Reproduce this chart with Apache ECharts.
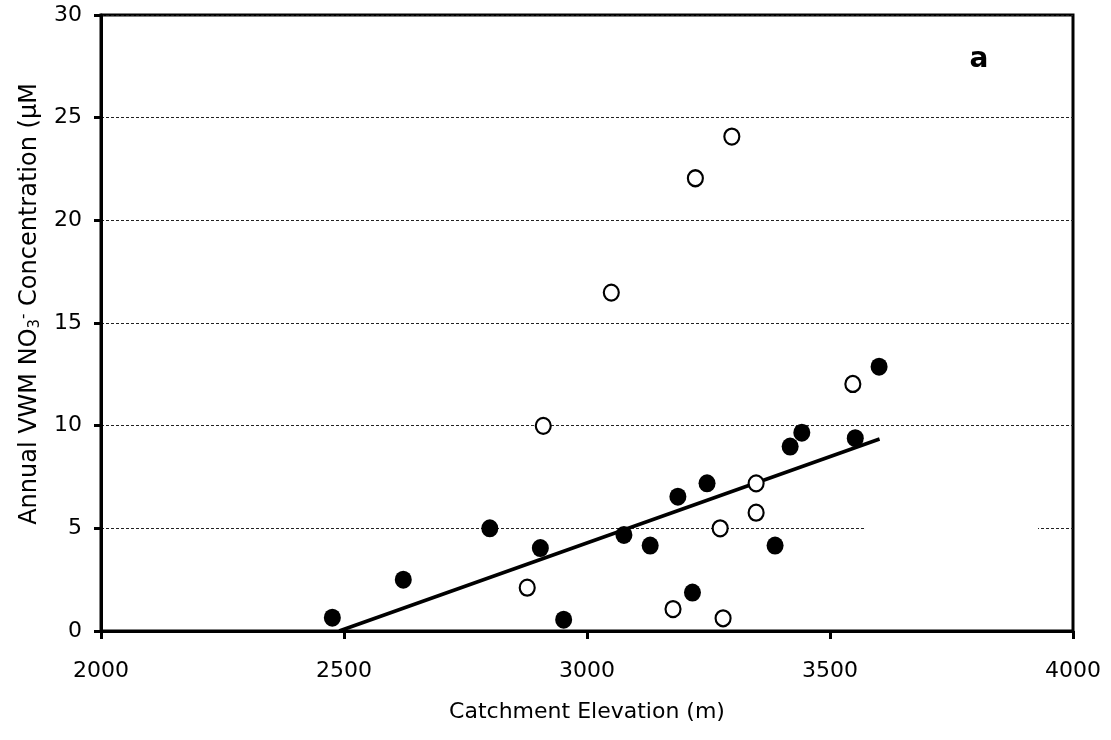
<!DOCTYPE html>
<html>
<head>
<meta charset="utf-8">
<script src="https://cdn.jsdelivr.net/npm/echarts@6/dist/echarts.min.js"></script>
<style>html,body{margin:0;padding:0;background:#fff;}#c{width:1111px;height:740px;}</style>
</head>
<body>
<div id="c"></div>
<script>
// Data
const xTicks = [2000, 2500, 3000, 3500, 4000];
const yTicks = [0, 5, 10, 15, 20, 25, 30];
const filledPoints = [
  [2476, 0.65], [2622, 2.5], [2800, 5.0], [2904, 4.04], [2952, 0.55],
  [3076, 4.68], [3130, 4.16], [3187, 6.54], [3217, 1.87], [3247, 7.19],
  [3387, 4.16], [3418, 8.98], [3442, 9.66], [3552, 9.39], [3601, 12.87]
];
const openPoints = [
  [2877, 2.11], [2910, 9.99], [3050, 16.48], [3177, 1.07], [3223, 22.05],
  [3274, 5.0], [3280, 0.62], [3298, 24.08], [3348, 7.19], [3348, 5.76],
  [3547, 12.03]
];
const trendLine = [[2490, 0], [3602, 9.35]];
const gridGapX = [3570, 3928];
const gridGapY = 5;
const panelLabel = 'a';

const FONT = 'DejaVu Sans';
const chart = echarts.init(document.getElementById('c'), null, {renderer: 'canvas'});
chart.setOption({
  backgroundColor: '#fff',
  animation: false,
  grid: {left: 101, right: 38, top: 15, bottom: 109, show: true, borderColor: '#000', borderWidth: 3, backgroundColor: 'transparent'},
  xAxis: {
    type: 'value', min: xTicks[0], max: xTicks[xTicks.length - 1], interval: 500,
    name: 'Catchment Elevation (m)', nameLocation: 'middle', nameGap: 70,
    nameTextStyle: {fontFamily: FONT, fontSize: 22, color: '#000'},
    axisLine: {show: true, lineStyle: {color: '#000', width: 3}},
    axisTick: {show: true, inside: false, length: 8, lineStyle: {color: '#000', width: 3}},
    axisLabel: {fontFamily: FONT, fontSize: 22, color: '#000', margin: 29, formatter: function (v) { return String(v); }},
    splitLine: {show: false}
  },
  yAxis: {
    type: 'value', min: yTicks[0], max: yTicks[yTicks.length - 1], interval: 5,
    name: 'Annual VWM NO{sub|3}{sup|-} Concentration (µM', nameLocation: 'middle', nameGap: 54,
    nameTextStyle: {fontFamily: FONT, fontSize: 24, color: '#000', padding: [0, 0, 0, 38],
      rich: {
        sub: {fontFamily: FONT, fontSize: 15, color: '#000', verticalAlign: 'bottom', padding: [11, 0, 0, 0]},
        sup: {fontFamily: FONT, fontSize: 15, color: '#000', verticalAlign: 'top', padding: [0, 0, 11, 0]}
      }},
    axisLine: {show: true, lineStyle: {color: '#000', width: 3}},
    axisTick: {show: true, inside: false, length: 7, lineStyle: {color: '#000', width: 3}},
    axisLabel: {fontFamily: FONT, fontSize: 22, color: '#000', margin: 19},
    splitLine: {show: true, lineStyle: {color: '#222', width: 1, type: [3, 2]}}
  },
  series: [
    {
      type: 'line', data: trendLine, symbol: 'none', silent: true, z: 3,
      lineStyle: {color: '#000', width: 3.5},
      markArea: {
        silent: true,
        itemStyle: {color: '#fff', opacity: 1},
        data: [[{xAxis: gridGapX[0], yAxis: gridGapY - 0.15}, {xAxis: gridGapX[1], yAxis: gridGapY + 0.15}]]
      }
    },
    {
      type: 'scatter', data: filledPoints, symbol: 'circle', symbolSize: [17, 18], z: 4,
      itemStyle: {color: '#000', borderColor: '#000', borderWidth: 0, opacity: 1}
    },
    {
      type: 'scatter', data: openPoints, symbol: 'circle', symbolSize: [15, 16], z: 4,
      itemStyle: {color: '#fff', borderColor: '#000', borderWidth: 2.2, opacity: 1}
    }
  ],
  graphic: [
    {type: 'text', x: 979, y: 60, style: {text: panelLabel, font: 'bold 28px "DejaVu Sans"', fill: '#000', textAlign: 'center', textVerticalAlign: 'middle'}}
  ]
});
</script>
</body>
</html>
